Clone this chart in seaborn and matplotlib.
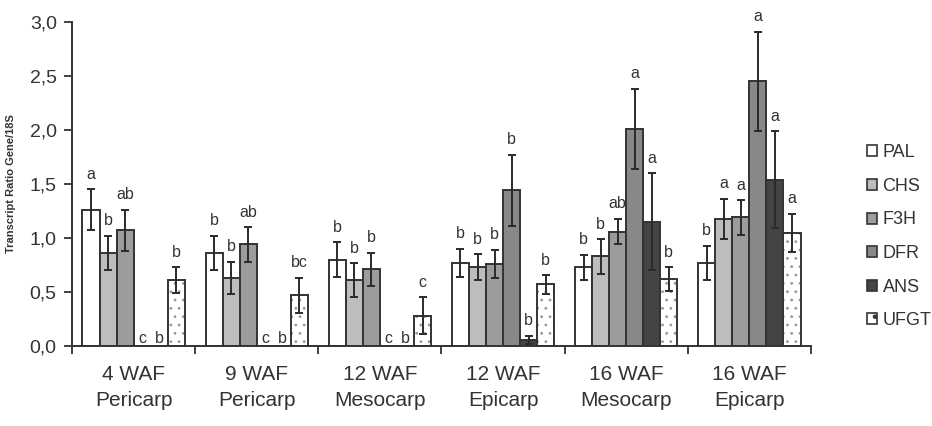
import numpy as np
import pandas as pd
import matplotlib
matplotlib.use("Agg")
import matplotlib.pyplot as plt
import seaborn as sns
from matplotlib.patches import Patch

# ---------------- data ----------------
categories = ["4 WAF\nPericarp", "9 WAF\nPericarp", "12 WAF\nMesocarp",
              "12 WAF\nEpicarp", "16 WAF\nMesocarp", "16 WAF\nEpicarp"]
genes = ["PAL", "CHS", "F3H", "DFR", "ANS", "UFGT"]

pal_vals = [1.26, 0.86, 0.80, 0.77, 0.73, 0.77]
chs_vals = [0.86, 0.63, 0.61, 0.73, 0.83, 1.18]
f3h_vals = [1.07, 0.94, 0.71, 0.76, 1.06, 1.19]
dfr_vals = [0.0, 0.0, 0.0, 1.44, 2.01, 2.45]
ans_vals = [0.0, 0.0, 0.0, 0.055, 1.15, 1.54]
ufgt_vals = [0.61, 0.47, 0.28, 0.57, 0.62, 1.05]

pal_err = [0.19, 0.16, 0.16, 0.13, 0.115, 0.16]
chs_err = [0.16, 0.15, 0.155, 0.12, 0.16, 0.185]
f3h_err = [0.19, 0.16, 0.155, 0.13, 0.12, 0.16]
dfr_err = [0.0, 0.0, 0.0, 0.33, 0.37, 0.46]
ans_err = [0.0, 0.0, 0.0, 0.04, 0.45, 0.45]
ufgt_err = [0.12, 0.16, 0.17, 0.085, 0.11, 0.175]

pal_let = ["a", "b", "b", "b", "b", "b"]
chs_let = ["b", "b", "b", "b", "b", "a"]
f3h_let = ["ab", "ab", "b", "b", "ab", "a"]
dfr_let = ["c", "c", "c", "b", "a", "a"]
ans_let = ["b", "b", "b", "b", "a", "a"]
ufgt_let = ["b", "bc", "c", "b", "b", "a"]

ytick_labels = ["0,0", "0,5", "1,0", "1,5", "2,0", "2,5", "3,0"]

values = [pal_vals, chs_vals, f3h_vals, dfr_vals, ans_vals, ufgt_vals]
errors = [pal_err, chs_err, f3h_err, dfr_err, ans_err, ufgt_err]
letters = [pal_let, chs_let, f3h_let, dfr_let, ans_let, ufgt_let]

colors = ["#ffffff", "#bdbdbd", "#9c9c9c", "#888888", "#444444", "#ffffff"]

df = pd.DataFrame({
    "stage": [c for g in genes for c in categories],
    "gene": [g for g in genes for c in categories],
    "value": [v for vals in values for v in vals],
})

BAR_WIDTH = 0.83

# ---------------- figure ----------------
sns.set_style("white")
plt.rcParams["font.family"] = ["Liberation Sans", "DejaVu Sans"]
plt.rcParams["hatch.linewidth"] = 0.8

fig = plt.figure(figsize=(9.32, 4.26), dpi=100)
ax = fig.add_axes([72 / 932, 1 - 346 / 426, (811 - 72) / 932, (346 - 22) / 426])

sns.barplot(data=df, x="stage", y="value", hue="gene", hue_order=genes,
            order=categories, palette=colors, width=BAR_WIDTH, gap=0,
            edgecolor="#333333", linewidth=1.4, errorbar=None,
            legend=False, ax=ax)

edge = "#333333"
n = len(genes)
step = BAR_WIDTH / n

# hatch the UFGT bars (identify bars by their position on the category axis)
for p in ax.patches:
    xc = p.get_x() + p.get_width() / 2
    ci = int(round(xc))
    gi = int(round((xc - ci) / step + (n - 1) / 2))
    if 0 <= gi < n and genes[gi] == "UFGT":
        p.set_hatch("..")
        p._hatch_color = (0.6, 0.6, 0.6, 1.0)

for gi in range(n):
    for ci in range(len(categories)):
        xc = ci + (gi - (n - 1) / 2) * step
        h = values[gi][ci]
        e = errors[gi][ci]
        if e > 0:
            ax.errorbar(xc, h, yerr=e, fmt="none", ecolor="#2a2a2a",
                        elinewidth=1.4, capsize=3.2, capthick=1.4, zorder=5)
        top = h + e + 0.07 if h > 0 else 0.0
        ax.text(xc, top, letters[gi][ci], ha="center", va="bottom",
                fontsize=11.5, color="#333333")

ax.set_ylim(0, 3.0)
ax.set_xlim(-0.5, len(categories) - 0.5)
ax.set_yticks(np.arange(0, 3.01, 0.5))
ax.set_yticklabels(ytick_labels, fontsize=14, color="#333333")
ax.set_xticks(range(len(categories)))
ax.set_xticklabels(categories, fontsize=15, color="#333333", linespacing=1.45)
ax.tick_params(axis="x", length=0, pad=14)
ax.set_xticks(np.arange(-0.5, len(categories), 1.0), minor=True)
ax.tick_params(axis="x", which="minor", length=6, width=1.3, color=edge,
               direction="out", bottom=True)
ax.tick_params(axis="y", length=6, width=1.3, color=edge, direction="out",
               left=True, pad=5)
ax.set_xlabel("")
ax.set_ylabel("Transcript Ratio Gene/18S", fontsize=8, fontweight="bold",
              color="#333333", labelpad=10)
for s in ["top", "right"]:
    ax.spines[s].set_visible(False)
for s in ["left", "bottom"]:
    ax.spines[s].set_color(edge)
    ax.spines[s].set_linewidth(1.4)

handles = []
for g, c in zip(genes, colors):
    p = Patch(facecolor=c, edgecolor=edge, linewidth=1.2,
              hatch="." if g == "UFGT" else None, label=g)
    handles.append(p)
fig.legend(handles=handles, loc="upper left", bbox_to_anchor=(851 / 932, 1 - 128 / 426),
           frameon=False, fontsize=13, handlelength=0.55, handleheight=0.55,
           handletextpad=0.3, labelspacing=0.92, labelcolor="#333333")

fig.savefig("out.png", dpi=100)
